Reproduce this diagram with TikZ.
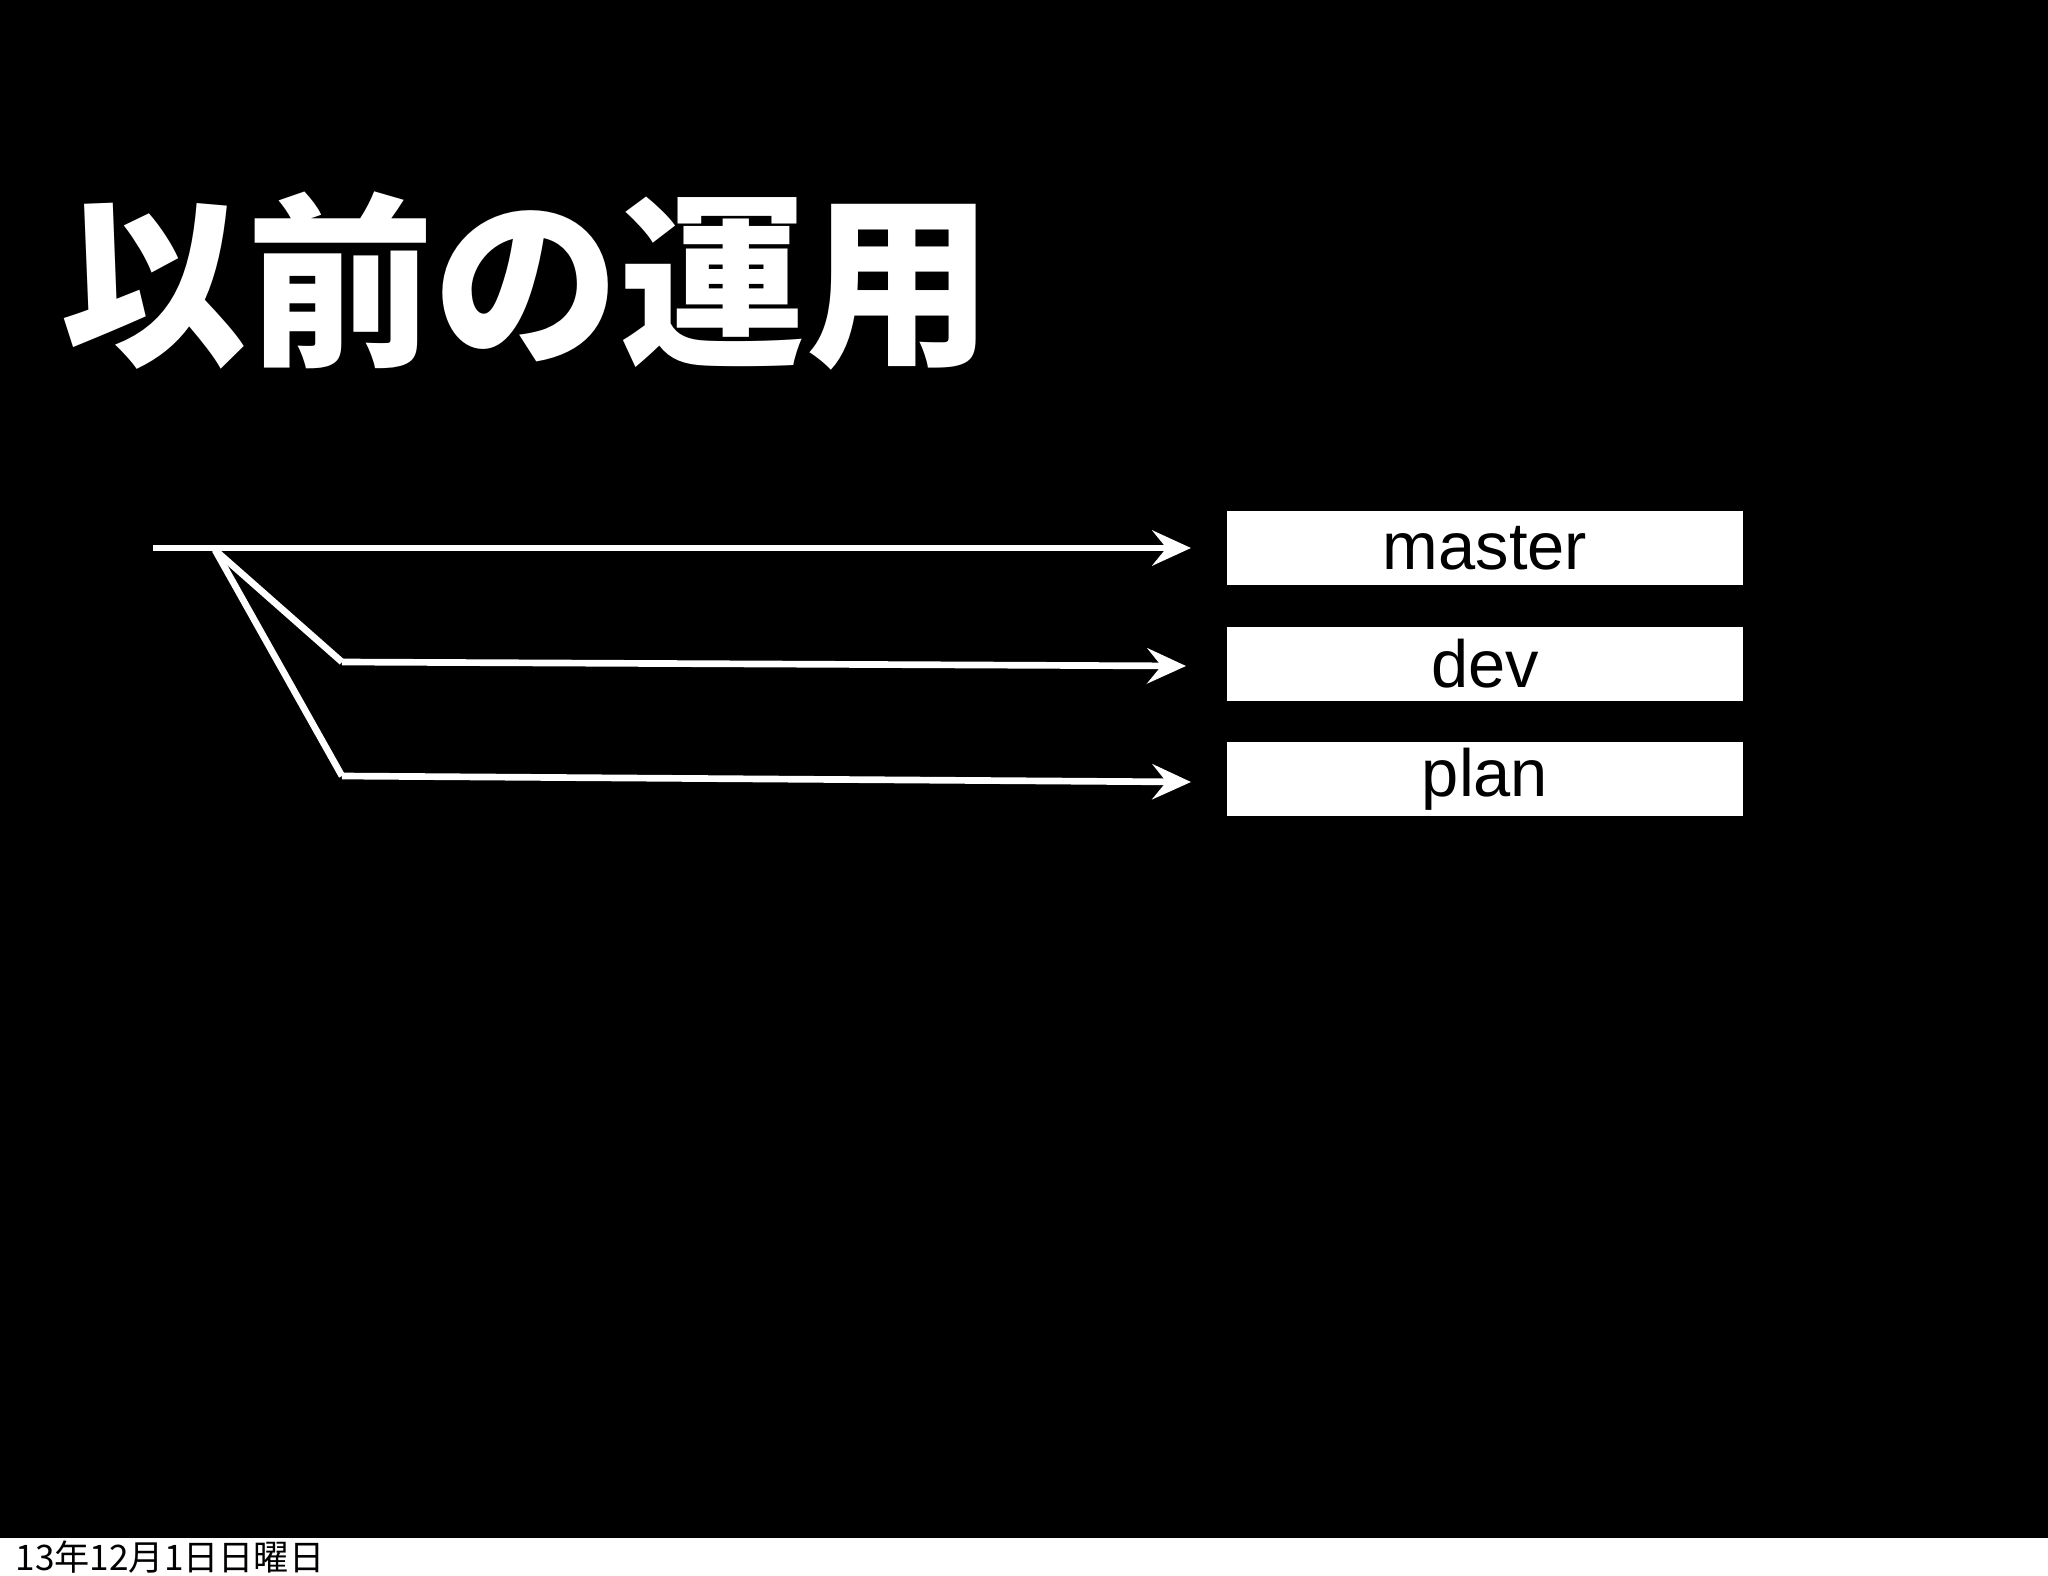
\documentclass[tikz,border=0pt]{standalone}
\usepackage{fontspec}
\setmainfont{Liberation Sans}
\newfontfamily\cjk{Noto Sans CJK JP}
\usetikzlibrary{arrows.meta}
\begin{document}
\begin{tikzpicture}[x=0.01cm,y=-0.01cm,
  conn/.style={white,line width=1.9pt,-{Stealth[length=11pt,width=10pt,inset=4pt]}},
  branch/.style={white,line width=1.9pt},
  label/.style={fill=white,minimum width=5.15cm,minimum height=0.73cm,inner sep=0pt,font=\fontsize{19}{22}\selectfont,text=black}]
\useasboundingbox (0,0) rectangle (2048,1576);
\fill[white] (0,0) rectangle (2048,1576);
\fill[black] (0,0) rectangle (2048,1538);
\node[anchor=west,text=white,inner sep=0pt,font=\cjk\fontsize{53}{60}\selectfont\bfseries] (title) at (60,281) {以前の運用};
\node[label] (master) at (1485,548) {master};
\node[label] (dev) at (1485,664) {dev};
\node[label] (plan) at (1485,779) {plan};
\coordinate (s) at (153,548);
\coordinate (b) at (215,550);
\coordinate (d1) at (342,662);
\coordinate (p1) at (342,776);
\coordinate (me) at (1191,548);
\coordinate (de) at (1186,666);
\coordinate (pe) at (1191,782);
\draw[conn] (s) -- (me);
\draw[branch] (b) -- (d1);
\draw[conn] (d1) -- (de);
\draw[branch] (b) -- (p1);
\draw[conn] (p1) -- (pe);
\node[anchor=west,inner sep=0pt,font=\cjk\fontsize{10}{12}\selectfont] (foot) at (15,1557) {13年12月1日日曜日};
\end{tikzpicture}
\end{document}
